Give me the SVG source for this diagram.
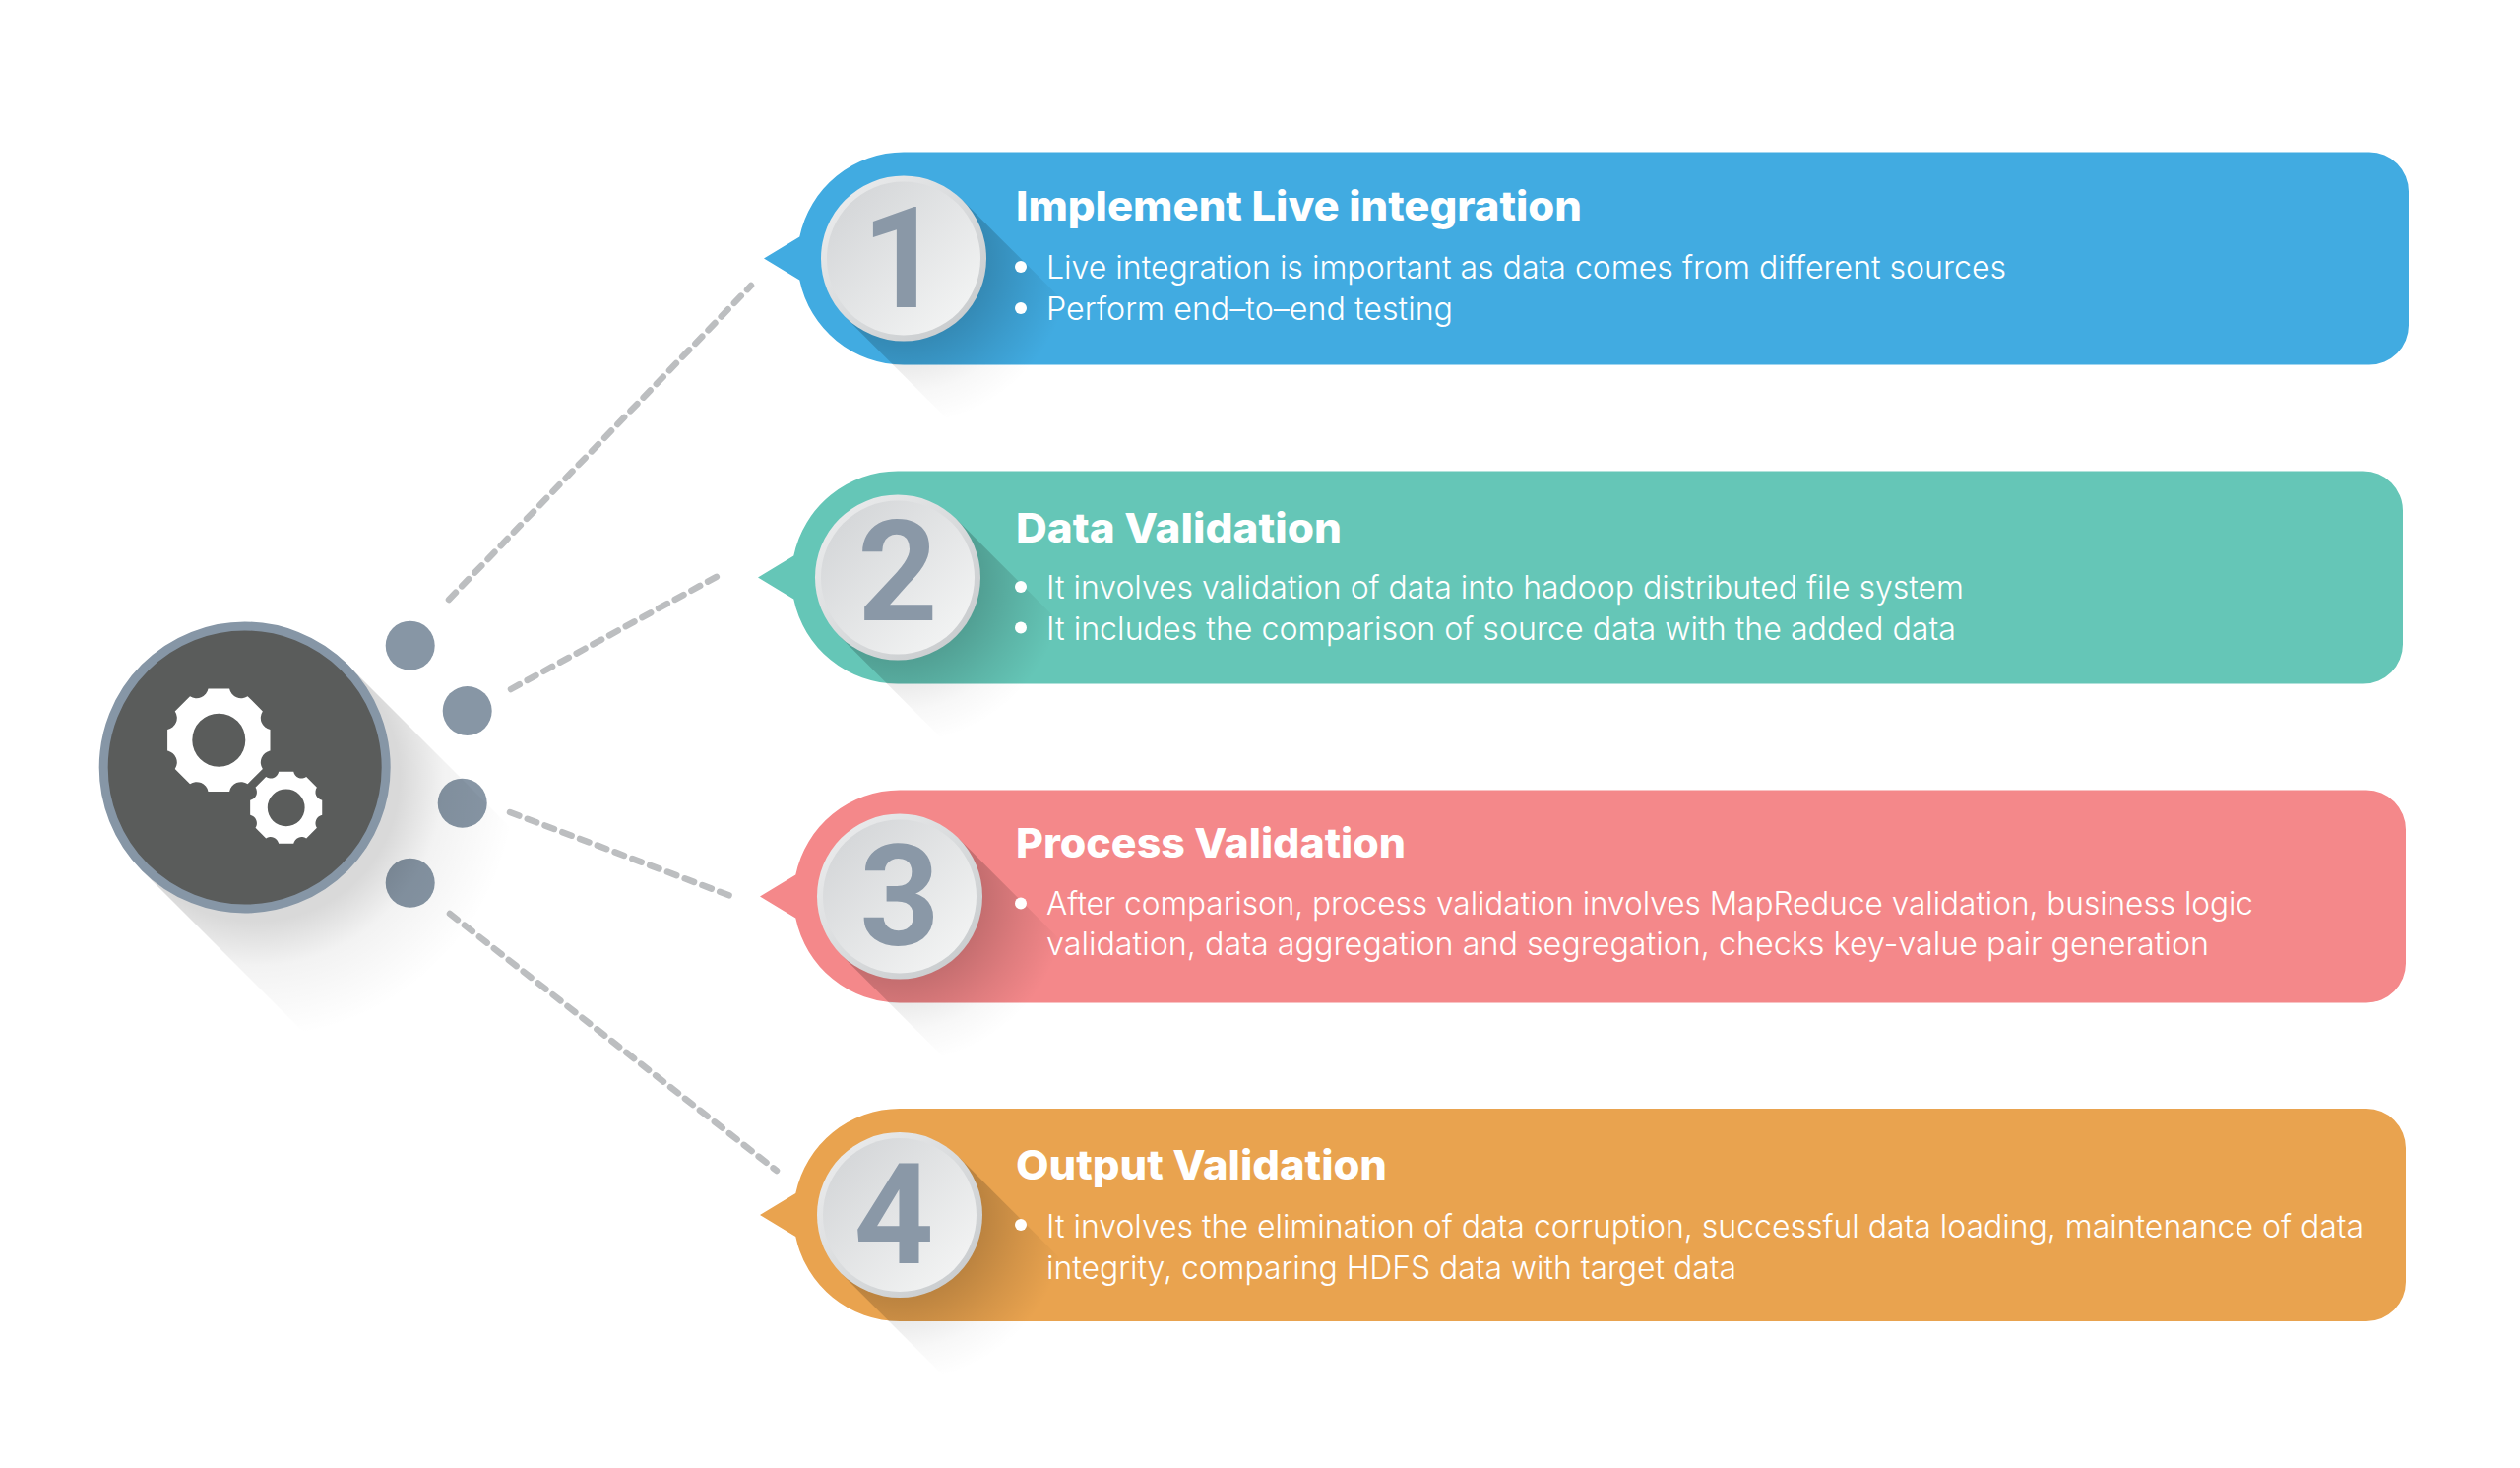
<svg xmlns="http://www.w3.org/2000/svg" xmlns:xlink="http://www.w3.org/1999/xlink" width="2560" height="1491" viewBox="0 0 2560 1491">
<style>
.title{font-family:"Inter","Liberation Sans",sans-serif;font-weight:800;font-size:41px;fill:#fff}
.body{font-family:"Inter","Liberation Sans",sans-serif;font-weight:300;font-size:32px;fill:#fff}
.num{font-family:"Roboto","Liberation Sans",Arial,sans-serif;font-weight:700;font-size:142px;fill:#8a98a7;text-anchor:middle}
.dash{fill:none;stroke:#bcbec0;stroke-width:6.5;stroke-linecap:round;stroke-dasharray:10 9}
.dot{fill:#8796a5}
</style>
<defs>
<radialGradient id="hubShadow" gradientUnits="userSpaceOnUse" cx="260" cy="790" r="265">
<stop offset="0.55" stop-color="#000" stop-opacity="0.15"/>
<stop offset="0.72" stop-color="#000" stop-opacity="0.05"/>
<stop offset="1" stop-color="#000" stop-opacity="0"/>
</radialGradient>
<radialGradient id="cardShadow" gradientUnits="userSpaceOnUse" cx="0" cy="0" r="170">
<stop offset="0.48" stop-color="#000" stop-opacity="0.2"/>
<stop offset="0.75" stop-color="#000" stop-opacity="0.09"/>
<stop offset="1" stop-color="#000" stop-opacity="0"/>
</radialGradient>
<radialGradient id="floorShadow" gradientUnits="userSpaceOnUse" cx="0" cy="0" r="170">
<stop offset="0.6" stop-color="#000" stop-opacity="0.09"/>
<stop offset="0.8" stop-color="#000" stop-opacity="0.03"/>
<stop offset="1" stop-color="#000" stop-opacity="0"/>
</radialGradient>
<clipPath id="band"><rect x="-200" y="-108" width="600" height="216"/></clipPath>
<linearGradient id="rim" x1="0.15" y1="0.15" x2="0.85" y2="0.85">
<stop offset="0" stop-color="#e8e9ea"/><stop offset="1" stop-color="#cbced0"/>
</linearGradient>
<linearGradient id="face" x1="0.15" y1="0.15" x2="0.85" y2="0.85">
<stop offset="0" stop-color="#d6d8da"/><stop offset="1" stop-color="#f1f2f2"/>
</linearGradient>
<path id="gear" fill="#fff" fill-rule="evenodd" d="M-10.8,-52.2 L10.8,-52.2 A12,12 0 0 0 29.27,-44.55 L44.55,-29.27 A12,12 0 0 0 52.2,-10.8 L52.2,10.8 A12,12 0 0 0 44.55,29.27 L29.27,44.55 A12,12 0 0 0 10.8,52.2 L-10.8,52.2 A12,12 0 0 0 -29.27,44.55 L-44.55,29.27 A12,12 0 0 0 -52.2,10.8 L-52.2,-10.8 A12,12 0 0 0 -44.55,-29.27 L-29.27,-44.55 A12,12 0 0 0 -10.8,-52.2 Z M27,0 A27,27 0 1 0 -27,0 A27,27 0 1 0 27,0 Z"/>
<polygon id="floor" fill="url(#floorShadow)" points="59.4,-59.4 259,140 140,259 -59.4,59.4"/>
<g id="badge">
<polygon fill="url(#cardShadow)" clip-path="url(#band)" points="59.4,-59.4 259,140 140,259 -59.4,59.4"/>
<circle r="84" fill="url(#rim)"/>
<circle r="78" fill="url(#face)"/>
</g>
</defs>
<rect width="2560" height="1491" fill="#fff"/>

<g id="connectors">
<line class="dash" x1="456" y1="609" x2="763" y2="290"/>
<line class="dash" x1="519" y1="700" x2="733" y2="583"/>
<line class="dash" x1="518" y1="825" x2="745" y2="911"/>
<line class="dash" x1="457" y1="928" x2="789" y2="1189"/>
</g>

<g id="dots">
<circle class="dot" cx="416.7" cy="655.7" r="25"/>
<circle class="dot" cx="474.7" cy="722" r="25"/>
<circle class="dot" cx="469.7" cy="815.7" r="25"/>
<circle class="dot" cx="416.7" cy="896.7" r="25"/>
</g>

<g id="hub">
<polygon fill="url(#hubShadow)" points="353,675 633,955 424,1164 144,884"/>
<circle cx="248.7" cy="779.5" r="143.5" fill="#5a5c5b" stroke="#8696a6" stroke-width="9"/>
<use xlink:href="#gear" href="#gear" transform="translate(222.3,751.7)"/>
<use xlink:href="#gear" href="#gear" transform="translate(290.7,820.3) scale(0.7)"/>
</g>

<g id="card-1" transform="translate(918,262.5)">
<use xlink:href="#floor" href="#floor"/>
<path fill="#41abe1" d="M0,-108 H1489 a40,40 0 0 1 40,40 V68 a40,40 0 0 1 -40,40 H0 A108,108 0 0 1 -105.7,22 L-142,0 L-105.7,-22 A108,108 0 0 1 0,-108 Z"/>
<use xlink:href="#badge" href="#badge"/>
<text class="num" x="-2" y="49">1</text>
<text class="title" x="114" y="-38.5" textLength="575" lengthAdjust="spacingAndGlyphs">Implement Live integration</text>
<circle cx="119" cy="8.5" r="6" fill="#fff"/><circle cx="119" cy="50.5" r="6" fill="#fff"/>
<text class="body" x="145" y="20.5" textLength="975" lengthAdjust="spacingAndGlyphs">Live integration is important as data comes from different sources</text>
<text class="body" x="145" y="62.5" textLength="413" lengthAdjust="spacingAndGlyphs">Perform end–to–end testing</text>
</g>

<g id="card-2" transform="translate(912,586.5)">
<use xlink:href="#floor" href="#floor"/>
<path fill="#65c6b7" d="M0,-108 H1489 a40,40 0 0 1 40,40 V68 a40,40 0 0 1 -40,40 H0 A108,108 0 0 1 -105.7,22 L-142,0 L-105.7,-22 A108,108 0 0 1 0,-108 Z"/>
<use xlink:href="#badge" href="#badge"/>
<text class="num" x="0" y="43">2</text>
<text class="title" x="120" y="-35.5" textLength="331" lengthAdjust="spacingAndGlyphs">Data Validation</text>
<circle cx="125" cy="9.5" r="6" fill="#fff"/><circle cx="125" cy="51" r="6" fill="#fff"/>
<text class="body" x="151" y="21" textLength="932" lengthAdjust="spacingAndGlyphs">It involves validation of data into hadoop distributed file system</text>
<text class="body" x="151" y="63" textLength="924" lengthAdjust="spacingAndGlyphs">It includes the comparison of source data with the added data</text>
</g>

<g id="card-3" transform="translate(914,910.5)">
<use xlink:href="#floor" href="#floor"/>
<path fill="#f4888a" d="M0,-108 H1490 a40,40 0 0 1 40,40 V68 a40,40 0 0 1 -40,40 H0 A108,108 0 0 1 -105.7,22 L-142,0 L-105.7,-22 A108,108 0 0 1 0,-108 Z"/>
<use xlink:href="#badge" href="#badge"/>
<text class="num" x="0" y="49">3</text>
<text class="title" x="118" y="-39.8" textLength="396" lengthAdjust="spacingAndGlyphs">Process Validation</text>
<circle cx="123" cy="7" r="6" fill="#fff"/>
<text class="body" x="149" y="18.3" textLength="1226" lengthAdjust="spacingAndGlyphs">After comparison, process validation involves MapReduce validation, business logic</text>
<text class="body" x="149" y="59.5" textLength="1181" lengthAdjust="spacingAndGlyphs">validation, data aggregation and segregation, checks key-value pair generation</text>
</g>

<g id="card-4" transform="translate(914,1234)">
<use xlink:href="#floor" href="#floor"/>
<path fill="#e9a34f" d="M0,-108 H1490 a40,40 0 0 1 40,40 V68 a40,40 0 0 1 -40,40 H0 A108,108 0 0 1 -105.7,22 L-142,0 L-105.7,-22 A108,108 0 0 1 0,-108 Z"/>
<use xlink:href="#badge" href="#badge"/>
<text class="num" x="-6" y="49">4</text>
<text class="title" x="118" y="-36.3" textLength="377" lengthAdjust="spacingAndGlyphs">Output Validation</text>
<circle cx="123" cy="10" r="6" fill="#fff"/>
<text class="body" x="149" y="23" textLength="1338" lengthAdjust="spacingAndGlyphs">It involves the elimination of data corruption, successful data loading, maintenance of data</text>
<text class="body" x="149" y="64.5" textLength="701" lengthAdjust="spacingAndGlyphs">integrity, comparing HDFS data with target data</text>
</g>
</svg>
